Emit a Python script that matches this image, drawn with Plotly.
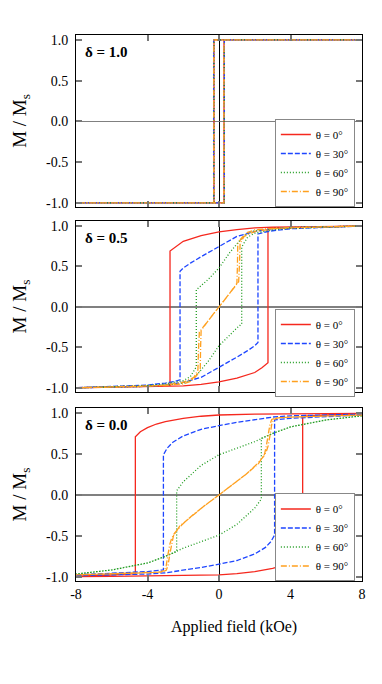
import plotly.graph_objects as go
from plotly.subplots import make_subplots

# ---- data: field H (kOe), reduced magnetisation M/Ms ----
# each loop = descending branch (8 -> -8) followed by ascending branch (-8 -> 8)
theta_labels = ["θ = 0°", "θ = 30°", "θ = 60°", "θ = 90°"]
delta_labels = ["δ = 1.0", "δ = 0.5", "δ = 0.0"]
x_ticks = [-8, -4, 0, 4, 8]
x_ticktext = ["-8", "-4", "0", "4", "8"]
y_ticks = [-1.0, -0.5, 0.0, 0.5, 1.0]
y_ticktext = ["-1.0", "-0.5", "0.0", "0.5", "1.0"]

# delta = 1.0 (square loops)
d10_t0_h = [8, -0.28, -0.28, -8, -8, 0.28, 0.28, 8]
d10_t0_m = [1.0, 1.0, -1.0, -1.0, -1.0, -1.0, 1.0, 1.0]
d10_t30_h = [8, -0.30, -0.30, -8, -8, 0.30, 0.30, 8]
d10_t30_m = [1.0, 1.0, -1.0, -1.0, -1.0, -1.0, 1.0, 1.0]
d10_t60_h = [8, -0.28, -0.28, -8, -8, 0.29, 0.29, 8]
d10_t60_m = [1.0, 1.0, -1.0, -1.0, -1.0, -1.0, 1.0, 1.0]
d10_t90_h = [8, -0.29, -0.29, -8, -8, 0.28, 0.28, 8]
d10_t90_m = [1.0, 1.0, -1.0, -1.0, -1.0, -1.0, 1.0, 1.0]

# delta = 0.5
d05_t0_h = [8, 6, 4, 3, 2, 1, 0, -1, -2, -2.4, -2.74, -2.74, -3, -4, -6, -8,
            -8, -6, -4, -3, -2, -1, 0, 1, 2, 2.4, 2.74, 2.74, 3, 4, 6, 8]
d05_t0_m = [0.998, 0.995, 0.99, 0.985, 0.975, 0.955, 0.925, 0.88, 0.81, 0.75, 0.69, -0.965, -0.97, -0.98, -0.99, -0.998,
            -0.998, -0.995, -0.99, -0.985, -0.975, -0.955, -0.925, -0.88, -0.81, -0.75, -0.69, 0.965, 0.97, 0.98, 0.99, 0.998]
d05_t30_h = [8, 6, 4, 3, 2, 1, 0, -1, -1.6, -2.0, -2.18, -2.18, -2.5, -3, -4, -6, -8,
             -8, -6, -4, -3, -2, -1, 0, 1, 1.6, 2.0, 2.18, 2.18, 2.5, 3, 4, 6, 8]
d05_t30_m = [0.998, 0.99, 0.98, 0.965, 0.93, 0.87, 0.75, 0.62, 0.54, 0.48, 0.44, -0.9, -0.92, -0.94, -0.965, -0.985, -0.998,
             -0.998, -0.99, -0.98, -0.965, -0.93, -0.87, -0.75, -0.62, -0.54, -0.48, -0.44, 0.9, 0.92, 0.94, 0.965, 0.985, 0.998]
d05_t60_h = [8, 6, 4, 3, 2, 1.6, 1.2, 0.6, 0, -0.6, -1.0, -1.27, -1.27, -1.6, -2, -3, -4, -6, -8,
             -8, -6, -4, -3, -2, -1.6, -1.2, -0.6, 0, 0.6, 1.0, 1.27, 1.27, 1.6, 2, 3, 4, 6, 8]
d05_t60_m = [0.998, 0.99, 0.98, 0.965, 0.94, 0.91, 0.83, 0.67, 0.48, 0.34, 0.26, 0.21, -0.74, -0.86, -0.91, -0.95, -0.97, -0.985, -0.998,
             -0.998, -0.99, -0.98, -0.965, -0.94, -0.91, -0.83, -0.67, -0.48, -0.34, -0.26, -0.21, 0.74, 0.86, 0.91, 0.95, 0.97, 0.985, 0.998]
d05_t90_h = [8, 6, 4, 3, 2, 1.6, 1.3, 1.05, 1.03, 1.0, 0.5, 0, -0.5, -0.95, -1.1, -1.15, -1.18, -1.4, -2, -3, -4, -6, -8,
             -8, -6, -4, -3, -2, -1.6, -1.3, -1.05, -1.03, -1.0, -0.5, 0, 0.5, 0.95, 1.1, 1.15, 1.18, 1.4, 2, 3, 4, 6, 8]
d05_t90_m = [0.998, 0.99, 0.98, 0.97, 0.95, 0.92, 0.86, 0.78, 0.5, 0.29, 0.14, 0, -0.14, -0.27, -0.31, -0.55, -0.78, -0.87, -0.93, -0.965, -0.98, -0.99, -0.998,
             -0.998, -0.99, -0.98, -0.97, -0.95, -0.92, -0.86, -0.78, -0.5, -0.29, -0.14, 0, 0.14, 0.27, 0.31, 0.55, 0.78, 0.87, 0.93, 0.965, 0.98, 0.99, 0.998]

# delta = 0.0
d00_t0_h = [8, 6, 4, 2, 0, -1, -2, -3, -3.5, -4, -4.4, -4.68, -4.68, -5, -6, -8,
            -8, -6, -4, -2, 0, 1, 2, 3, 3.5, 4, 4.4, 4.68, 4.68, 5, 6, 8]
d00_t0_m = [0.995, 0.993, 0.99, 0.985, 0.975, 0.96, 0.935, 0.895, 0.865, 0.82, 0.77, 0.71, -0.96, -0.965, -0.975, -0.99,
            -0.995, -0.993, -0.99, -0.985, -0.975, -0.96, -0.935, -0.895, -0.865, -0.82, -0.77, -0.71, 0.96, 0.965, 0.975, 0.99]
d00_t30_h = [8, 6, 4, 3, 2, 1, 0, -1, -2, -2.6, -2.9, -3.11, -3.11, -4, -6, -8,
             -8, -6, -4, -3, -2, -1, 0, 1, 2, 2.6, 2.9, 3.11, 3.11, 4, 6, 8]
d00_t30_m = [0.985, 0.975, 0.965, 0.95, 0.92, 0.885, 0.845, 0.8, 0.72, 0.64, 0.57, 0.49, -0.915, -0.935, -0.955, -0.975,
             -0.985, -0.975, -0.965, -0.95, -0.92, -0.885, -0.845, -0.8, -0.72, -0.64, -0.57, -0.49, 0.915, 0.935, 0.955, 0.975]
d00_t60_h = [8, 6, 4, 3, 2.4, 2, 1, 0, -1, -2, -2.37, -2.37, -3, -4, -6, -8,
             -8, -6, -4, -3, -2.4, -2, -1, 0, 1, 2, 2.37, 2.37, 3, 4, 6, 8]
d00_t60_m = [0.965, 0.915, 0.83, 0.75, 0.69, 0.65, 0.57, 0.49, 0.36, 0.16, 0.05, -0.69, -0.75, -0.83, -0.915, -0.965,
             -0.965, -0.915, -0.83, -0.75, -0.69, -0.65, -0.57, -0.49, -0.36, -0.16, -0.05, 0.69, 0.75, 0.83, 0.915, 0.965]
d00_t90_h = [8, 6, 4, 3.2, 2.95, 2.85, 2.75, 2.65, 2.55, 2.2, 1.5, 0.8, 0, -0.8, -1.5, -2.1, -2.5, -2.65, -2.75, -2.85, -2.95, -3.05, -3.3, -4, -6, -8,
             -8, -6, -4, -3.2, -2.95, -2.85, -2.75, -2.65, -2.55, -2.2, -1.5, -0.8, 0, 0.8, 1.5, 2.1, 2.5, 2.65, 2.75, 2.85, 2.95, 3.05, 3.3, 4, 6, 8]
d00_t90_m = [0.975, 0.965, 0.95, 0.94, 0.92, 0.86, 0.72, 0.6, 0.5, 0.38, 0.25, 0.13, 0, -0.13, -0.25, -0.37, -0.47, -0.53, -0.6, -0.72, -0.86, -0.92, -0.94, -0.95, -0.965, -0.975,
             -0.975, -0.965, -0.95, -0.94, -0.92, -0.86, -0.72, -0.6, -0.5, -0.38, -0.25, -0.13, 0, 0.13, 0.25, 0.37, 0.47, 0.53, 0.6, 0.72, 0.86, 0.92, 0.94, 0.95, 0.965, 0.975]

panels = [
    [(d10_t0_h, d10_t0_m), (d10_t30_h, d10_t30_m), (d10_t60_h, d10_t60_m), (d10_t90_h, d10_t90_m)],
    [(d05_t0_h, d05_t0_m), (d05_t30_h, d05_t30_m), (d05_t60_h, d05_t60_m), (d05_t90_h, d05_t90_m)],
    [(d00_t0_h, d00_t0_m), (d00_t30_h, d00_t30_m), (d00_t60_h, d00_t60_m), (d00_t90_h, d00_t90_m)],
]

# styles
colors = ["#f5281e", "#1e46ff", "#1e9b1e", "#ffa01e"]
dashes = ["solid", "5px,2px", "1px,2px", "6px,2px,1px,2px"]
FONT = "Liberation Serif"

fig = make_subplots(rows=3, cols=1, shared_xaxes=True, vertical_spacing=0.028)

legend_names = ["legend", "legend2", "legend3"]
for r, curves in enumerate(panels):
    for i, (h, m) in enumerate(curves):
        fig.add_trace(go.Scatter(
            x=h, y=m,
            mode="lines",
            name=theta_labels[i],
            legendgroup="d%d_t%d" % (r, i),
            line=dict(color=colors[i], width=1.3, dash=dashes[i]),
            legend=legend_names[r],
        ), row=r + 1, col=1)

    fig.add_annotation(
        text="<b>" + delta_labels[r] + "</b>",
        xref="x domain", yref="y domain" if r == 0 else "y%d domain" % (r + 1),
        x=0.025, y=0.9, xanchor="left", yanchor="middle",
        showarrow=False, font=dict(family=FONT, size=15, color="black"),
    )

# x title placed where it sits in the original
fig.add_annotation(
    text="Applied field (kOe)", xref="paper", yref="paper",
    x=0.552, y=-0.084, xanchor="center", yanchor="middle",
    showarrow=False, font=dict(family=FONT, size=16, color="black"),
)

leg_common = dict(
    xanchor="right", x=0.975, yanchor="middle",
    bgcolor="white", bordercolor="#888888", borderwidth=1,
    font=dict(family=FONT, size=11, color="black"),
    tracegroupgap=0, itemwidth=30,
)

fig.update_layout(
    width=382, height=684, autosize=False,
    margin=dict(l=68, r=28, t=27, b=111),
    paper_bgcolor="white", plot_bgcolor="white",
    font=dict(family=FONT, color="black"),
    legend=dict(y=0.7656, **leg_common),
    legend2=dict(y=0.4176, **leg_common),
    legend3=dict(y=0.0797, **leg_common),
    yaxis=dict(domain=[0.685, 1.0]),
    yaxis2=dict(domain=[0.3462, 0.6593]),
    yaxis3=dict(domain=[0.0, 0.3168]),
)

fig.update_xaxes(
    range=[-8, 8], tickvals=x_ticks, ticktext=x_ticktext,
    ticks="inside", ticklen=6, tickwidth=1.5, tickcolor="#777777",
    showline=True, linecolor="black", linewidth=1, mirror="ticks",
    showgrid=False, zeroline=True, zerolinecolor="black", zerolinewidth=1,
    tickfont=dict(family=FONT, size=14, color="black"),
)
fig.update_yaxes(
    range=[-1.05, 1.06], tickvals=y_ticks, ticktext=y_ticktext,
    ticks="inside", ticklen=6, tickwidth=1.5, tickcolor="#777777",
    showline=True, linecolor="black", linewidth=1, mirror="ticks",
    showgrid=False, zeroline=True, zerolinecolor="#808080", zerolinewidth=2,
    tickfont=dict(family=FONT, size=14, color="black"),
    ticklabelstandoff=4,
    title=dict(text="M / M<sub>s</sub>", font=dict(family=FONT, size=19, color="black"), standoff=14),
)
fig.update_yaxes(zerolinewidth=1, row=1, col=1)

fig.write_html("out.html")
